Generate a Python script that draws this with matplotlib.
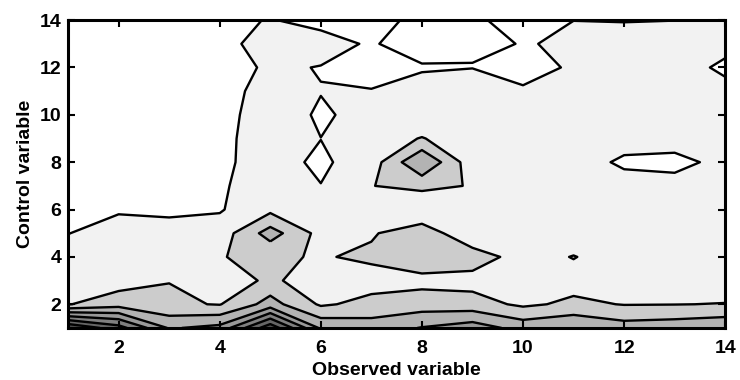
import matplotlib
matplotlib.use("Agg")
import matplotlib.pyplot as plt
import numpy as np

plt.rcParams['font.family'] = ['Liberation Sans', 'DejaVu Sans']
plt.rcParams['font.weight'] = 'bold'

# grid axes
observed = list(range(1, 15))   # x
control = list(range(1, 15))    # y

# values, one row per control value (y = 1 .. 14)
row_01 = [0.0, 1.58, 4.1, 3.7, 0.3, 4.18, 4.5, 3.95, 3.47, 4.39, 4.02, 4.55, 4.41, 4.17]
row_02 = [6.05, 5.43, 5.85, 6.05, 4.6, 6.14, 5.7, 5.49, 5.6, 6.18, 5.8, 6.04, 6.02, 5.97]
row_03 = [6.4, 6.45, 6.02, 6.9, 5.7, 6.9, 6.4, 6.3, 6.35, 6.5, 6.37, 6.4, 6.4, 6.5]
row_04 = [6.6, 6.6, 6.5, 6.025, 5.85, 6.08, 5.82, 5.3, 5.5, 6.41, 5.96, 6.5, 6.5, 6.5]
row_05 = [7.02, 6.6, 6.6, 6.55, 4.55, 6.35, 6.1, 5.4, 6.8, 6.6, 6.6, 6.6, 6.6, 6.6]
row_06 = [7.5, 7.1, 7.2, 7.08, 6.25, 6.6, 6.5, 6.9, 6.6, 6.6, 6.6, 6.6, 6.6, 6.6]
row_07 = [7.5, 7.5, 7.5, 7.12, 6.5, 6.98, 6.02, 5.75, 6.06, 6.7, 6.7, 6.74, 6.63, 6.7]
row_08 = [7.5, 7.5, 7.5, 7.15, 6.67, 7.16, 6.5, 4.0, 6.63, 6.7, 6.7, 7.11, 7.3, 6.7]
row_09 = [7.5, 7.5, 7.5, 7.15, 6.7, 6.99, 6.5, 5.95, 6.6, 6.7, 6.7, 6.74, 6.55, 6.7]
row_10 = [7.5, 7.5, 7.5, 7.53, 6.2, 7.2, 6.51, 6.78, 6.6, 6.7, 6.7, 6.7, 6.7, 6.7]
row_11 = [7.5, 7.5, 7.5, 7.4, 6.6, 6.95, 6.95, 6.2, 6.5, 6.9, 6.7, 6.7, 6.7, 6.8]
row_12 = [7.5, 7.5, 7.5, 7.85, 6.7, 7.075, 7.45, 7.2, 7.02, 7.3, 6.9, 6.8, 6.7, 7.13]
row_13 = [7.5, 7.5, 7.5, 7.3, 6.6, 6.2, 7.25, 12.0, 12.0, 7.3, 6.3, 6.5, 6.5, 6.8]
row_14 = [7.5, 7.5, 7.5, 7.5, 6.9, 7.61, 7.6, 8.3, 8.3, 7.3, 7.02, 7.05, 7.01, 6.8]

levels = [-1, 1, 2, 3, 4, 5, 6, 7, 8, 20]
band_colors = ['#4d4d4d', '#666666', '#808080', '#999999', '#b3b3b3',
               '#cccccc', '#f2f2f2', '#ffffff', '#ffffff']

Z = np.array([row_01, row_02, row_03, row_04, row_05, row_06, row_07,
              row_08, row_09, row_10, row_11, row_12, row_13, row_14])
X, Y = np.meshgrid(observed, control)

fig = plt.figure(figsize=(7.4, 3.8), dpi=100)
ax = fig.add_axes([0.092, 0.137, 0.888, 0.81])

ax.contourf(X, Y, Z, levels=levels, colors=band_colors)
ax.contour(X, Y, Z, levels=levels[1:-1], colors='k', linewidths=1.7)

ax.set_xlim(1, 14)
ax.set_ylim(1, 14)
ax.set_xticks(range(2, 15, 2))
ax.set_yticks(range(2, 15, 2))
ax.tick_params(direction='in', top=True, right=True, length=5, width=1.5,
               labelsize=14, pad=5)
ax.tick_params(axis='x', pad=9)
for s in ax.spines.values():
    s.set_linewidth(2.2)

ax.set_xlabel("Observed variable", fontsize=14, fontweight='bold', labelpad=3)
ax.set_ylabel("Control variable", fontsize=14, fontweight='bold', labelpad=4)

fig.savefig("out.png", dpi=100)
